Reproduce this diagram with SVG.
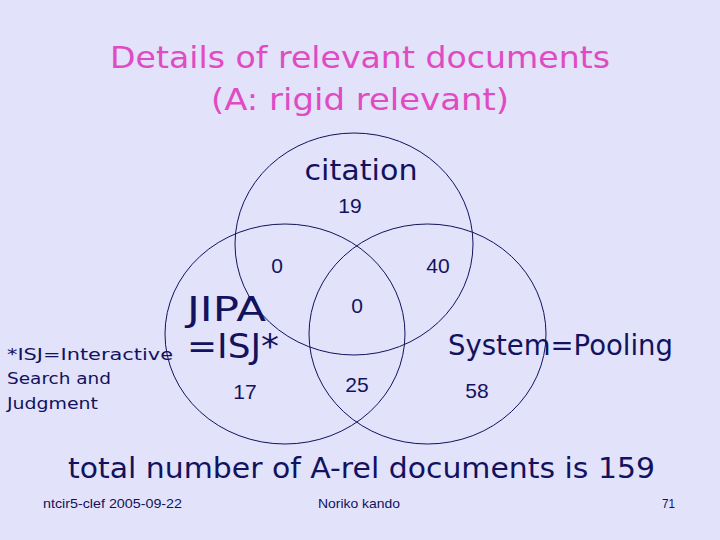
<svg xmlns="http://www.w3.org/2000/svg" width="720" height="540" viewBox="0 0 720 540">
<style>
.t{font-family:"DejaVu Sans","Liberation Sans",sans-serif;fill:#12125e}
.n{font-family:"Liberation Sans",Arial,sans-serif;fill:#12125e;font-size:21px;text-anchor:middle}
.c{fill:none;stroke:#12125e;stroke-width:1}
.f{font-family:"Liberation Sans Narrow","Liberation Sans",sans-serif;fill:#12125e;font-size:13px}
</style>
<rect width="720" height="540" fill="#e2e2fa"/>
<g id="title">
<text x="360" y="68" text-anchor="middle" font-family="DejaVu Sans, sans-serif" font-size="31" fill="#e04bc4" textLength="500" lengthAdjust="spacingAndGlyphs">Details of relevant documents</text>
<text x="360" y="110" text-anchor="middle" font-family="DejaVu Sans, sans-serif" font-size="31" fill="#e04bc4" textLength="298" lengthAdjust="spacingAndGlyphs">(A: rigid relevant)</text>
</g>
<g id="citation">
<ellipse class="c" cx="354" cy="244" rx="119" ry="111"/>
<text class="t" x="361" y="180" font-size="28" text-anchor="middle" textLength="113" lengthAdjust="spacingAndGlyphs">citation</text>
</g>
<g id="jipa">
<ellipse class="c" cx="285" cy="334" rx="120" ry="110"/>
<text class="t" x="187" y="321" font-size="33" textLength="79" lengthAdjust="spacingAndGlyphs">JIPA</text>
<text class="t" x="187" y="358" font-size="33" textLength="92" lengthAdjust="spacingAndGlyphs">=ISJ*</text>
</g>
<g id="pooling">
<ellipse class="c" cx="427.5" cy="334" rx="118.5" ry="110"/>
<text class="t" x="448" y="355" font-size="29" textLength="225" lengthAdjust="spacingAndGlyphs">System=Pooling</text>
</g>
<g id="counts">
<text class="n" x="350" y="213">19</text>
<text class="n" x="277" y="273">0</text>
<text class="n" x="438" y="273">40</text>
<text class="n" x="357" y="313">0</text>
<text class="n" x="245" y="399">17</text>
<text class="n" x="357" y="392">25</text>
<text class="n" x="477" y="398">58</text>
</g>
<g id="note">
<text class="t" x="7" y="360" font-size="16" textLength="166" lengthAdjust="spacingAndGlyphs">*ISJ=Interactive</text>
<text class="t" x="7" y="384" font-size="16" textLength="104" lengthAdjust="spacingAndGlyphs">Search and</text>
<text class="t" x="7" y="409" font-size="16" textLength="91" lengthAdjust="spacingAndGlyphs">Judgment</text>
</g>
<g id="total">
<text class="t" x="68" y="478" font-size="29" textLength="587" lengthAdjust="spacingAndGlyphs">total number of A-rel documents is 159</text>
</g>
<g id="footer">
<text class="f" x="43" y="508" textLength="139" lengthAdjust="spacingAndGlyphs">ntcir5-clef  2005-09-22</text>
<text class="f" x="318" y="508" textLength="82" lengthAdjust="spacingAndGlyphs">Noriko kando</text>
<text class="f" x="662" y="508" textLength="13" lengthAdjust="spacingAndGlyphs">71</text>
</g>
</svg>
